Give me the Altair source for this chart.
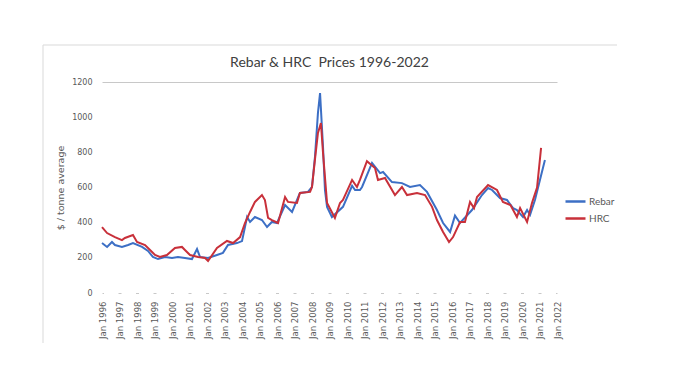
import altair as alt
import pandas as pd

# decimal year, value  ($ / tonne average)
rebar_t = [1996.0, 1996.29, 1996.57, 1996.74, 1997.14, 1997.49, 1997.77, 1998.29, 1998.63, 1998.91,
           1999.2, 1999.6, 2000.0, 2000.34, 2000.74, 2001.14, 2001.43, 2001.6, 2002.06, 2002.57,
           2002.91, 2003.2, 2003.71, 2004.0, 2004.29, 2004.46, 2004.74, 2005.14, 2005.43, 2005.71,
           2006.0, 2006.46, 2006.86, 2007.31, 2007.77, 2008.0, 2008.17, 2008.34, 2008.46, 2008.63,
           2008.74, 2008.86, 2009.14, 2009.77, 2010.29, 2010.46, 2010.74, 2010.86, 2011.43, 2011.89,
           2012.06, 2012.57, 2013.14, 2013.6, 2014.17, 2014.57, 2015.14, 2015.49, 2015.89, 2016.17,
           2016.46, 2017.14, 2017.71, 2018.06, 2018.29, 2018.74, 2019.14, 2019.49, 2019.71, 2020.06,
           2020.29, 2020.46, 2020.74, 2021.31]
rebar_v = [284, 262, 290, 273, 262, 273, 284, 262, 239, 205,
           193, 205, 199, 205, 199, 193, 250, 205, 199, 216,
           228, 273, 284, 295, 432, 404, 432, 415, 375, 404,
           398, 500, 461, 569, 575, 603, 774, 1024, 1137, 830,
           586, 490, 432, 490, 610, 586, 586, 603, 740, 682,
           688, 631, 625, 603, 614, 575, 472, 398, 347, 440,
           398, 472, 557, 597, 586, 540, 529, 483, 472, 432,
           472, 444, 529, 757]

hrc_t = [1996.0, 1996.29, 1996.74, 1997.14, 1997.31, 1997.77, 1998.0, 1998.46, 1998.86, 1999.03,
         1999.31, 1999.71, 2000.17, 2000.57, 2000.74, 2001.03, 2001.49, 2001.89, 2002.06, 2002.57,
         2003.14, 2003.49, 2003.89, 2004.17, 2004.46, 2004.74, 2005.14, 2005.31, 2005.49, 2005.71,
         2006.06, 2006.46, 2006.63, 2007.14, 2007.31, 2007.89, 2008.0, 2008.17, 2008.34, 2008.51,
         2008.63, 2008.86, 2009.31, 2009.6, 2009.77, 2010.29, 2010.57, 2010.74, 2011.14, 2011.6,
         2011.77, 2012.17, 2012.74, 2013.14, 2013.43, 2014.0, 2014.46, 2014.86, 2015.14, 2015.49,
         2015.83, 2016.06, 2016.46, 2016.74, 2017.03, 2017.26, 2017.43, 2018.06, 2018.57, 2018.91,
         2019.34, 2019.71, 2019.89, 2020.29, 2020.57, 2020.86, 2021.09]
hrc_v = [375, 341, 318, 301, 313, 330, 290, 273, 233, 216,
         205, 216, 256, 262, 245, 216, 205, 199, 182, 256,
         296, 284, 318, 398, 461, 518, 557, 529, 427, 415,
         398, 546, 518, 512, 569, 575, 603, 760, 910, 967,
         796, 512, 427, 512, 529, 643, 603, 643, 750, 711,
         643, 654, 557, 603, 557, 569, 557, 490, 415, 347,
         290, 318, 404, 404, 518, 483, 546, 614, 586, 518,
         500, 432, 483, 404, 512, 600, 825]

series = ["Rebar", "HRC"]
colors = ["#3C6FC5", "#C8303A"]
year_ticks = list(range(1996, 2023))
y_ticks = [0, 200, 400, 600, 800, 1000, 1200]

df = pd.concat([
    pd.DataFrame({"t": rebar_t, "v": rebar_v, "s": "Rebar"}),
    pd.DataFrame({"t": hrc_t, "v": hrc_v, "s": "HRC"}),
])

W, H = 455, 211

border = alt.Chart(pd.DataFrame({"a": [0]})).mark_rect(
    fill=None, stroke="#d9d9d9", strokeWidth=1, clip=False
).encode(
    x=alt.value(-59), x2=alt.value(519), y=alt.value(-37), y2=alt.value(266)
)

lines = alt.Chart(df).mark_line(strokeWidth=2).encode(
    x=alt.X("t:Q", scale=alt.Scale(domain=[1996, 2022], nice=False, zero=False),
            axis=alt.Axis(values=year_ticks, labelExpr="'Jan ' + datum.value", labelAngle=-90,
                          labelFont="DejaVu Sans", labelFontSize=8.5, labelColor="#595959",
                          labelPadding=8, ticks=False, grid=False, domain=True,
                          domainColor="#c8c8c8", domainDash=[3, 14.5], domainDashOffset=1.5,
                          labelOverlap=False, labelBound=False, title=None)),
    y=alt.Y("v:Q", scale=alt.Scale(domain=[0, 1200], nice=False),
            axis=alt.Axis(values=y_ticks, format="d", labelFont="DejaVu Sans", labelFontSize=8,
                          labelColor="#595959", labelPadding=10, ticks=False, domain=False,
                          grid=True,
                          gridColor={"condition": {"test": "datum.value === 1200", "value": "#c8c8c8"},
                                     "value": "transparent"},
                          title="$ / tonne average", titleFont="DejaVu Sans", titleFontSize=9.5,
                          titleFontWeight="normal", titleColor="#595959", titlePadding=6)),
    color=alt.Color("s:N", sort=series, scale=alt.Scale(domain=series, range=colors),
                    legend=alt.Legend(title=None, orient="none", legendX=462, legendY=108,
                                      symbolType="stroke", symbolSize=400, symbolStrokeWidth=2.5,
                                      labelFont="Lato", labelFontSize=10, labelColor="#595959",
                                      labelOffset=2, rowPadding=0, padding=0)),
    order=alt.Order("t:Q"),
)

chart = alt.layer(border, lines).properties(
    width=W, height=H,
    title=alt.TitleParams("Rebar & HRC\u00a0 Prices 1996-2022", font="Lato", fontSize=14,
                          fontWeight="normal", color="#404040", offset=-25, anchor="middle",
                          frame="group"),
    autosize=alt.AutoSizeParams(type="none"),
    padding={"left": 94, "top": 74, "right": 60, "bottom": 50},
).configure_view(stroke=None)

chart.save("out.html", embed_options={"renderer": "svg", "actions": False})
